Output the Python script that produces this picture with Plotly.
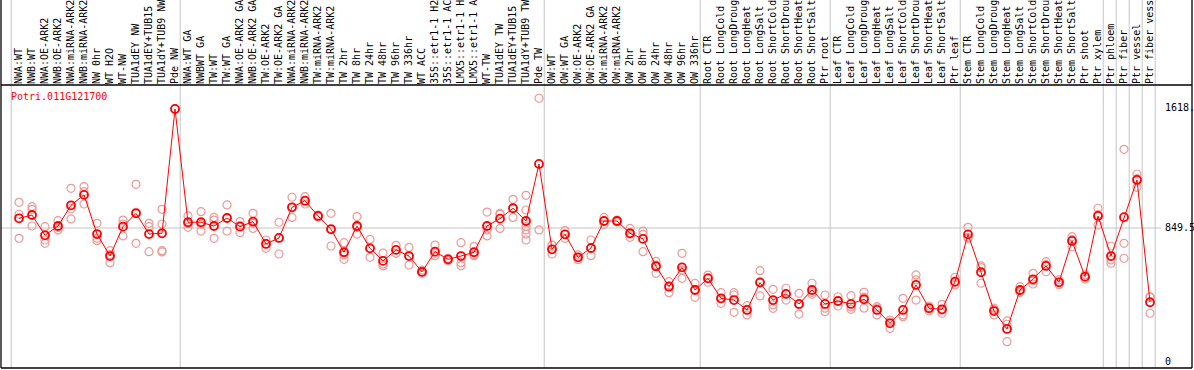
import plotly.graph_objects as go

gene = "Potri.011G121700"

labels = [
    "NWA:WT", "NWB:WT", "NWA:OE-ARK2", "NWB:OE-ARK2", "NWA:miRNA-ARK2", "NWB:miRNA-ARK2",
    "NW 0hr", "WT H2O", "WT-NW", "TUA1dEY NW", "TUA1dEY+TUB15", "TUA1dY+TUB9 NW", "Pde NW",
    "NWA:WT GA", "NWBWT GA", "TW:WT", "TW:WT GA", "NWA:OE-ARK2 GA", "NWB:OE-ARK2 GA",
    "TW:OE-ARK2", "TW:OE-ARK2 GA", "NWA:miRNA-ARK2", "NWB:miRNA-ARK2", "TW:miRNA-ARK2",
    "TW:miRNA-ARK2", "TW 2hr", "TW 8hr", "TW 24hr", "TW 48hr", "TW 96hr", "TW 336hr", "WT ACC",
    "35S::etr1-1 H2O", "35S::etr1-1 ACC", "LMX5::etr1-1 H2O", "LMX5::etr1-1 ACC", "WT-TW",
    "TUA1dEY TW", "TUA1dEY+TUB15", "TUA1dY+TUB9 TW", "Pde TW",
    "OW:WT", "OW:WT GA", "OW:OE-ARK2", "OW:OE-ARK2 GA", "OW:miRNA-ARK2", "OW:miRNA-ARK2",
    "OW 2hr", "OW 8hr", "OW 24hr", "OW 48hr", "OW 96hr", "OW 336hr",
    "Root CTR", "Root LongCold", "Root LongDrought", "Root LongHeat", "Root LongSalt",
    "Root ShortCold", "Root ShortDrought", "Root ShortHeat", "Root ShortSalt", "Ptr root",
    "Leaf CTR", "Leaf LongCold", "Leaf LongDrought", "Leaf LongHeat", "Leaf LongSalt",
    "Leaf ShortCold", "Leaf ShortDrought", "Leaf ShortHeat", "Leaf ShortSalt", "Ptr leaf",
    "Stem CTR", "Stem LongCold", "Stem LongDrought", "Stem LongHeat", "Stem LongSalt",
    "Stem ShortCold", "Stem ShortDrought", "Stem ShortHeat", "Stem ShortSalt", "Ptr shoot",
    "Ptr xylem", "Ptr phloem", "Ptr fiber", "Ptr vessel", "Ptr fiber vessel",
]

means = [
    911, 932, 803, 862, 994, 1060, 811, 671, 858, 943, 811, 816, 1607,
    886, 886, 862, 913, 858, 890, 748, 786, 981, 1023, 926, 841, 695, 862, 720, 640,
    710, 671, 570, 699, 650, 671, 695, 862, 909, 975, 894, 1257,
    714, 809, 663, 722, 894, 894, 816, 780, 606, 476, 599, 455,
    529, 402, 391, 328, 502, 391, 430, 366, 455, 366,
    385, 366, 396, 328, 243, 328, 487, 339, 332, 508,
    809, 568, 321, 207, 455, 523, 608, 504, 767, 540,
    926, 671, 918, 1155, 377,
]

replicates = [
    [1013, 937, 784], [985, 968, 862], [858, 773, 752], [896, 854, 837], [1102, 972, 907],
    [1113, 1081, 1002], [879, 784, 769], [705, 680, 629], [900, 875, 799], [1127, 949, 752],
    [879, 858, 699], [968, 875, 705, 697], [1607],
    [926, 877, 854], [953, 873, 830], [917, 900, 784], [996, 913, 830], [890, 864, 820],
    [943, 879, 847], [773, 750, 720], [886, 788, 684], [1045, 981, 917], [1049, 1019, 1002],
    [932, 926, 920], [943, 845, 735], [756, 678, 650], [922, 854, 811], [777, 720, 663],
    [690, 620, 608], [739, 710, 688], [726, 671, 614], [582, 572, 561], [741, 688, 673],
    [657, 650, 642], [756, 629, 610], [731, 680, 673], [951, 837, 799], [943, 936, 847],
    [1032, 975, 917], [1057, 964, 858, 837, 811, 773], [1675, 837],
    [741, 714, 684], [833, 809, 784], [678, 663, 648], [773, 722, 673], [917, 894, 873],
    [900, 894, 888], [847, 811, 790], [830, 809, 699], [637, 614, 561], [508, 483, 438],
    [688, 582, 529], [497, 459, 408],
    [550, 533, 504], [438, 398, 370], [438, 423, 313], [355, 332, 296], [578, 508, 417],
    [459, 360, 338], [466, 430, 391], [434, 361, 302], [498, 440, 428], [423, 339, 317],
    [412, 385, 353], [419, 347, 332], [440, 409, 339], [349, 339, 296], [264, 253, 211],
    [402, 296, 285], [551, 519, 391], [353, 339, 323], [364, 326, 307], [536, 502, 487],
    [854, 790, 784], [608, 597, 498], [339, 330, 296], [258, 237, 126], [476, 449, 440],
    [561, 514, 493], [635, 616, 571], [519, 504, 489], [794, 775, 730], [551, 538, 525],
    [975, 934, 868], [735, 646, 625], [1350, 752, 657], [1193, 1163, 1108], [412, 410, 307],
]

# group separators (between categories)
separators = [-0.6, 12.4, 40.4, 52.4, 62.4, 72.4, 83.4, 84.4, 85.4, 86.4, 87.4]
y_ticks = [0, 849.5, 1618]
y_ticktext = ["0", "849.5", "1618."]

x_idx = list(range(len(labels)))
rep_x = [i for i, reps in enumerate(replicates) for _ in reps]
rep_y = [v for reps in replicates for v in reps]

W, H = 1194, 370
ML, MR, MT, MB = 1, 2, 85, 2
x_range = [-1.385, 90.23]
y_range = [-41.4, 1759.3]
header_top = 1 + MT / (H - MT - MB)

FONT = "DejaVu Sans Mono"
GRID = "#c4c4c4"

fig = go.Figure()
fig.add_trace(go.Scatter(
    x=rep_x, y=rep_y, mode="markers",
    marker=dict(symbol="circle-open", size=8, color="#ec9a9a", line=dict(width=1.2)),
    hoverinfo="skip", showlegend=False,
))
fig.add_trace(go.Scatter(
    x=x_idx, y=means, mode="lines+markers",
    line=dict(color="#ff0000", width=1),
    marker=dict(symbol="circle-open", size=8, color="#ff0000", line=dict(width=1.8)),
    showlegend=False,
))

shapes = []
for s in separators:
    shapes.append(dict(type="line", xref="x", yref="paper", x0=s, x1=s, y0=0, y1=header_top,
                       line=dict(color=GRID, width=1), layer="below"))
# horizontal grid line at 849.5
x_grid_end = (1161 - ML) / (W - ML - MR)
shapes.append(dict(type="line", xref="paper", yref="y", x0=0, x1=x_grid_end, y0=849.5, y1=849.5,
                   line=dict(color=GRID, width=1), layer="below"))
# frame
for (x0, y0, x1, y1) in [(0, 0, 0, header_top), (1, 0, 1, header_top), (0, 0, 1, 0), (0, 1, 1, 1)]:
    shapes.append(dict(type="line", xref="paper", yref="paper", x0=x0, x1=x1, y0=y0, y1=y1,
                       line=dict(color="black", width=1.3)))

annotations = [dict(
    text=gene, xref="paper", yref="paper", x=(9 - ML) / (W - ML - MR), y=(H - MB - 97) / (H - MT - MB),
    xanchor="left", yanchor="middle", showarrow=False,
    font=dict(family=FONT, size=10, color="#ff0000"),
)]
label_x = (1163 - ML) / (W - ML - MR)
for v, t in zip(y_ticks, y_ticktext):
    annotations.append(dict(text=t, xref="paper", yref="y", x=label_x, y=v, xanchor="left",
                            yanchor="middle", showarrow=False,
                            font=dict(family=FONT, size=10, color="black")))

fig.update_layout(
    width=W, height=H,
    margin=dict(l=ML, r=MR, t=MT, b=MB, pad=0),
    paper_bgcolor="white", plot_bgcolor="white",
    shapes=shapes, annotations=annotations,
    xaxis=dict(range=x_range, side="top", tickmode="array", tickvals=x_idx, ticktext=labels,
               tickangle=-90, tickfont=dict(family=FONT, size=10, color="black"),
               showgrid=False, zeroline=False, showline=False, ticks="", automargin=False),
    yaxis=dict(range=y_range, showgrid=False, zeroline=False, showticklabels=False,
               showline=False, ticks=""),
)

fig.write_html(
    "out.html",
    config={"displayModeBar": False},
    post_script="document.body.style.margin='0';document.body.style.overflow='hidden';",
)
